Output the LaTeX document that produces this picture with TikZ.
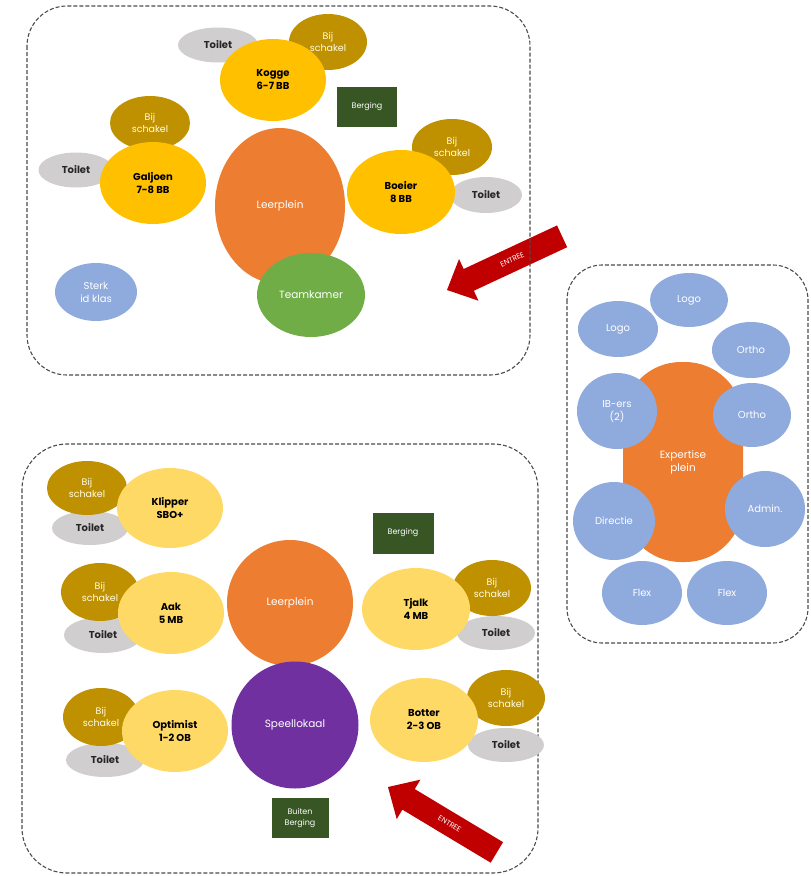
\documentclass[tikz,border=0pt]{standalone}
\usepackage{fontspec}
\setmainfont{Poppins}
\usetikzlibrary{shapes.geometric}
\definecolor{toiletgrey}{HTML}{D0CECE}
\definecolor{bijgold}{HTML}{BF9000}
\definecolor{bovenbouw}{HTML}{FFC000}
\definecolor{onderbouw}{HTML}{FFD966}
\definecolor{pleinorange}{HTML}{ED7D31}
\definecolor{teamgreen}{HTML}{70AD47}
\definecolor{zorgblue}{HTML}{8FAADC}
\definecolor{berginggreen}{HTML}{375623}
\definecolor{speelpurple}{HTML}{7030A0}
\definecolor{entreered}{HTML}{C00000}

\begin{document}
\begin{tikzpicture}[x=1pt, y=-1pt,
    blob/.style={ellipse, inner sep=0pt, align=center},
    sz/.style 2 args={minimum width=#1pt, minimum height=#2pt},
    toilet/.style={blob, sz={78}{34}, fill=toiletgrey, text=black!85, font=\fontsize{10}{11}\selectfont\bfseries},
    bij/.style={blob, sz={78}{56}, fill=bijgold, text=white!90!yellow, font=\fontsize{9.5}{12.5}\selectfont},
    klas/.style={blob, sz={106}{82}, text=black, font=\fontsize{10}{13}\selectfont\bfseries},
    zorg/.style={blob, sz={80}{56}, fill=zorgblue, text=white, font=\fontsize{10}{13}\selectfont},
    plein/.style={blob, fill=pleinorange, text=white, font=\fontsize{10.5}{13}\selectfont},
    berging/.style={rectangle, fill=berginggreen, text=white, align=center, inner sep=0pt, font=\fontsize{8}{11}\selectfont},
    zone/.style={draw=black!70, line width=1.1pt, dash pattern=on 4pt off 2pt}]
\useasboundingbox (0,0) rectangle (811,876);

\newcommand*\entree[4]{
    \begin{scope}[shift={(#1,#2)}, rotate=#3]
        \fill[entreered] (0,0) -- (24,23) -- (24,12) -- (127,12) -- (127,-12) -- (24,-12) -- (24,-23) -- cycle;
        \node[transform shape, text=white, font=\fontsize{7.5}{7.5}\selectfont] (#4) at (72,0) {ENTREE};
    \end{scope}}
\entree{447}{290}{25}{entreeboven}
\entree{388}{787}{-31}{entreeonder}

% zones
\draw[zone, rounded corners=40pt] (27,6) rectangle (530,375);
\draw[zone, rounded corners=35pt] (567,265) rectangle (808,643);
\draw[zone, rounded corners=45pt] (22,444) rectangle (538,873);

% bovenbouw
\node[toilet, sz={80}{35}] (toiletkogge) at (218,45) {Toilet};
\node[bij] (bijkogge) at (328,42) {Bij\\schakel};
\node[klas, fill=bovenbouw] (kogge) at (273,80) {Kogge\\6-7 BB};
\node[berging, sz={60}{40}] (bergingboven) at (367,107) {Berging};
\node[toilet, sz={75}{35}] (toiletgaljoen) at (76,170) {Toilet};
\node[bij, sz={80}{54}] (bijgaljoen) at (150,123) {Bij\\schakel};
\node[klas, fill=bovenbouw] (galjoen) at (153,183) {Galjoen\\7-8 BB};
\node[bij, sz={80}{56}] (bijboeier) at (452,147) {Bij\\schakel};
\node[toilet, sz={72}{36}] (toiletboeier) at (486,195) {Toilet};
\node[klas, fill=bovenbouw, sz={108}{84}] (boeier) at (401,192) {Boeier\\8 BB};
\node[plein, sz={130}{156}] (leerpleinboven) at (280,206) {Leerplein};
\node[plein, fill=teamgreen, sz={108}{84}] (teamkamer) at (311,295) {Teamkamer};
\node[zorg, sz={82}{58}] (sterk) at (96,292) {Sterk\\id klas};

% expertise
\node[plein, rectangle, rounded corners=58pt, sz={120}{200}] (expertise) at (683,462) {Expertise\\plein};
\node[zorg, sz={78}{54}] (logo1) at (689,300) {Logo};
\node[zorg] (logo2) at (618,329) {Logo};
\node[zorg, sz={78}{56}] (ortho1) at (751,350) {Ortho};
\node[zorg, sz={80}{76}] (iber) at (617,411) {IB-ers\\(2)};
\node[zorg, sz={78}{64}] (ortho2) at (752,415) {Ortho};
\node[zorg, sz={80}{76}] (admin) at (765,509) {Admin.};
\node[zorg, sz={82}{78}] (directie) at (614,521) {Directie};
\node[zorg, sz={80}{64}] (flex1) at (642,593) {Flex};
\node[zorg, sz={80}{64}] (flex2) at (727,593) {Flex};

% midden- en onderbouw
\node[toilet, sz={76}{34}] (toiletklipper) at (90,528) {Toilet};
\node[bij, sz={80}{54}] (bijklipper) at (87,488) {Bij\\schakel};
\node[klas, fill=onderbouw, sz={106}{80}] (klipper) at (170,508) {Klipper\\SBO+};
\node[berging, sz={61}{41}] (bergingonder) at (403,533) {Berging};
\node[toilet, sz={78}{36}] (toiletaak) at (103,635) {Toilet};
\node[bij, sz={78}{58}] (bijaak) at (100,592) {Bij\\schakel};
\node[klas, fill=onderbouw] (aak) at (171,613) {Aak\\5 MB};
\node[plein, sz={126}{126}] (leerpleinonder) at (290,603) {Leerplein};
\node[toilet, sz={78}{34}] (toilettjalk) at (496,633) {Toilet};
\node[bij] (bijtjalk) at (492,588) {Bij\\schakel};
\node[klas, fill=onderbouw, sz={108}{82}] (tjalk) at (416,609) {Tjalk\\4 MB};
\node[plein, fill=speelpurple, sz={127}{127}] (speellokaal) at (295,725) {Speellokaal};
\node[toilet, sz={78}{34}] (toiletoptimist) at (105,760) {Toilet};
\node[bij, sz={76}{58}] (bijoptimist) at (101,717) {Bij\\schakel};
\node[klas, fill=onderbouw] (optimist) at (175,731) {Optimist\\1-2 OB};
\node[toilet, sz={76}{34}] (toiletbotter) at (506,745) {Toilet};
\node[bij] (bijbotter) at (506,698) {Bij\\schakel};
\node[klas, fill=onderbouw, sz={108}{84}] (botter) at (424,720) {Botter\\2-3 OB};
\node[berging, sz={57}{40}] (buitenberging) at (300,818) {Buiten\\Berging};
\end{tikzpicture}
\end{document}
